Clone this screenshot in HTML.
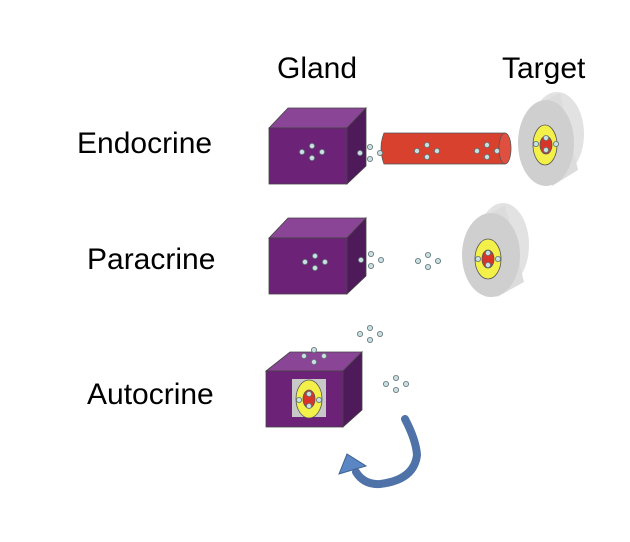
<!DOCTYPE html>
<html><head><meta charset="utf-8"><style>
html,body{margin:0;padding:0;background:#fff;}
svg{display:block}
text{font-family:"Liberation Sans",sans-serif;font-size:30px;fill:#000}
</style></head><body>
<svg width="630" height="542" viewBox="0 0 630 542" xmlns="http://www.w3.org/2000/svg">
<defs>
<g id="d4"><circle cx="-10" cy="0" r="2.6"/><circle cx="0" cy="-6" r="2.6"/><circle cx="0" cy="6" r="2.6"/><circle cx="10" cy="0" r="2.6"/></g>
</defs>
<text x="277" y="78">Gland</text>
<text x="502" y="78">Target</text>
<text x="77" y="153">Endocrine</text>
<text x="87" y="269">Paracrine</text>
<text x="87" y="404">Autocrine</text>

<g stroke="#444" stroke-width="0.8">
<polygon points="269,128 288,108 366,108 347,128" fill="#8a4596"/>
<polygon points="347,128 366,108 366,166 347,184" fill="#4e1a5a"/>
<rect x="269" y="128" width="78" height="56" fill="#6b2277"/>
<polygon points="269,238 288,218 366,218 347,238" fill="#8a4596"/>
<polygon points="347,238 366,218 366,276 347,294" fill="#4e1a5a"/>
<rect x="269" y="238" width="78" height="56" fill="#6b2277"/>
<polygon points="266,371 290,352 362,352 343,371" fill="#8a4596"/>
<polygon points="343,371 362,352 362,410 343,427" fill="#4e1a5a"/>
<rect x="266" y="371" width="77" height="56" fill="#6b2277"/>
</g>
<rect x="292" y="379" width="34" height="38" fill="#c8c8c8"/>
<g stroke="#555" stroke-width="0.8">
<ellipse cx="309" cy="399" rx="13" ry="19" fill="#f4f04a"/>
<ellipse cx="309" cy="399" rx="6" ry="9" fill="#d8352a"/>
</g>

<path d="M384,133 L505,133 L505,164 L384,164 Q378,148 384,133 Z" fill="#d8412e" stroke="#555" stroke-width="0.8"/>
<ellipse cx="505" cy="148.5" rx="6" ry="15.5" fill="#e05040" stroke="#555" stroke-width="0.8"/>

<ellipse cx="557" cy="134" rx="27" ry="42" fill="#e2e2e2"/>
<path d="M546,100 L560,93 L578,170 L552,186 Z" fill="#dcdcdc"/>
<ellipse cx="546" cy="143" rx="28" ry="43" fill="#cfcfcf"/>
<g stroke="#555" stroke-width="0.8">
<ellipse cx="545" cy="145" rx="12" ry="20" fill="#f4f04a"/>
<ellipse cx="546" cy="145" rx="6" ry="9" fill="#d8352a"/>
</g>
<ellipse cx="503" cy="245" rx="26" ry="42" fill="#e2e2e2"/>
<path d="M491,213 L505,205 L524,282 L497,297 Z" fill="#dcdcdc"/>
<ellipse cx="491" cy="255" rx="29" ry="42" fill="#cfcfcf"/>
<g stroke="#555" stroke-width="0.8">
<ellipse cx="488" cy="259" rx="13" ry="20" fill="#f4f04a"/>
<ellipse cx="488" cy="259" rx="6" ry="9" fill="#d8352a"/>
</g>

<g fill="#c8e0e4" stroke="#607070" stroke-width="0.8">
<use href="#d4" x="312" y="152"/>
<use href="#d4" x="427" y="151"/>
<use href="#d4" x="487" y="151"/>
<use href="#d4" x="315" y="262"/>
<use href="#d4" x="428" y="261"/>
<use href="#d4" x="371" y="260"/>
<use href="#d4" x="370" y="153"/>
<use href="#d4" x="314" y="356"/>
<use href="#d4" x="370" y="334"/>
<use href="#d4" x="396" y="384"/>
<use href="#d4" x="546" y="144"/>
<use href="#d4" x="488" y="259"/>
<use href="#d4" x="309" y="400"/>
</g>

<path d="M405,419 Q416,440 417,455 Q414,480 380,484 Q364,485 356,472" fill="none" stroke="#4f73a8" stroke-width="8" stroke-linecap="round"/>
<polygon points="339,474 347,454 366,466" fill="#5b86c4" stroke="#3f5f90" stroke-width="1"/>
</svg>
</body></html>
